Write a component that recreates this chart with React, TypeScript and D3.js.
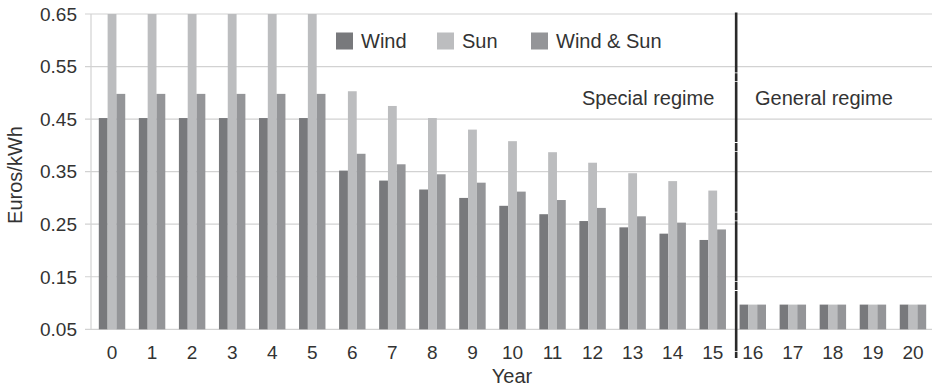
import React from "react";
import * as d3 from "d3";

const years = ["0","1","2","3","4","5","6","7","8","9","10","11","12","13","14","15","16","17","18","19","20"];
const seriesNames = ["Wind", "Sun", "Wind & Sun"];
const windValues = [0.452,0.452,0.452,0.452,0.452,0.452,0.352,0.333,0.316,0.300,0.285,0.269,0.256,0.244,0.232,0.220,0.097,0.097,0.097,0.097,0.097];
const sunValues = [0.65,0.65,0.65,0.65,0.65,0.65,0.503,0.475,0.452,0.430,0.408,0.387,0.367,0.347,0.332,0.314,0.097,0.097,0.097,0.097,0.097];
const windSunValues = [0.498,0.498,0.498,0.498,0.498,0.498,0.384,0.364,0.345,0.329,0.312,0.296,0.281,0.265,0.253,0.240,0.097,0.097,0.097,0.097,0.097];
const yTicks = [0.05,0.15,0.25,0.35,0.45,0.55,0.65];
const colors = ["#78797c", "#bcbdbf", "#949598"];

const W = 932, H = 387;
const FONT = "'Liberation Sans', Arial, Helvetica, sans-serif";

export default function App() {
  const x = d3.scaleBand<string>().domain(years).range([92, 933]).paddingInner(0.34).paddingOuter(0.17);
  const xs = d3.scaleBand<string>().domain(seriesNames).range([0, x.bandwidth()]).padding(0);
  const y = d3.scaleLinear().domain([0.05, 0.65]).range([329.3, 14]);
  const series = [windValues, sunValues, windSunValues];
  const step = x.step();
  const divX = (x("16") as number) - (step - x.bandwidth()) / 4;
  const fmt = d3.format(".2f");

  return (
    <svg width={W} height={H} style={{ position: "absolute", left: 0, top: 0, background: "#fff" }} fontFamily={FONT}>
      {yTicks.map((t) => (
        <g key={t}>
          <line x1={85} x2={932} y1={y(t)} y2={y(t)} stroke="#d2d2d2" strokeWidth={1.2} />
          <text x={77} y={y(t)} dy="0.36em" textAnchor="end" fontSize={19} fill="#333">{fmt(t)}</text>
        </g>
      ))}
      <line x1={91} x2={91} y1={y(0.65)} y2={y(0.05)} stroke="#d2d2d2" strokeWidth={1.2} />
      {years.map((yr, i) => (
        <g key={yr}>
          {series.map((vals, s) => (
            <rect key={s}
              x={(x(yr) as number) + (xs(seriesNames[s]) as number)}
              y={y(Math.min(vals[i], 0.65))}
              width={xs.bandwidth()}
              height={y(0.05) - y(Math.min(vals[i], 0.65))}
              fill={colors[s]} />
          ))}
          <text x={(x(yr) as number) + x.bandwidth() / 2} y={359} textAnchor="middle" fontSize={19} fill="#333">{yr}</text>
        </g>
      ))}
      <line x1={divX} x2={divX} y1={12.5} y2={358} stroke="#2a2a2a" strokeWidth={2.6} strokeDasharray="60 0.8 8 0.8" />
      {seriesNames.map((n, s) => {
        const lx = [336, 437, 531][s];
        return (
          <g key={n}>
            <rect x={lx} y={32.5} width={17} height={17} fill={colors[s]} />
            <text x={lx + 25} y={48} fontSize={20} fill="#333">{n}</text>
          </g>
        );
      })}
      <text x={582} y={105} fontSize={20} fill="#333">Special regime</text>
      <text x={755} y={105} fontSize={20} fill="#333">General regime</text>
      <text transform={`translate(22,175) rotate(-90)`} textAnchor="middle" fontSize={20} fill="#333">Euros/kWh</text>
      <text x={512} y={383} textAnchor="middle" fontSize={20} fill="#333">Year</text>
    </svg>
  );
}
